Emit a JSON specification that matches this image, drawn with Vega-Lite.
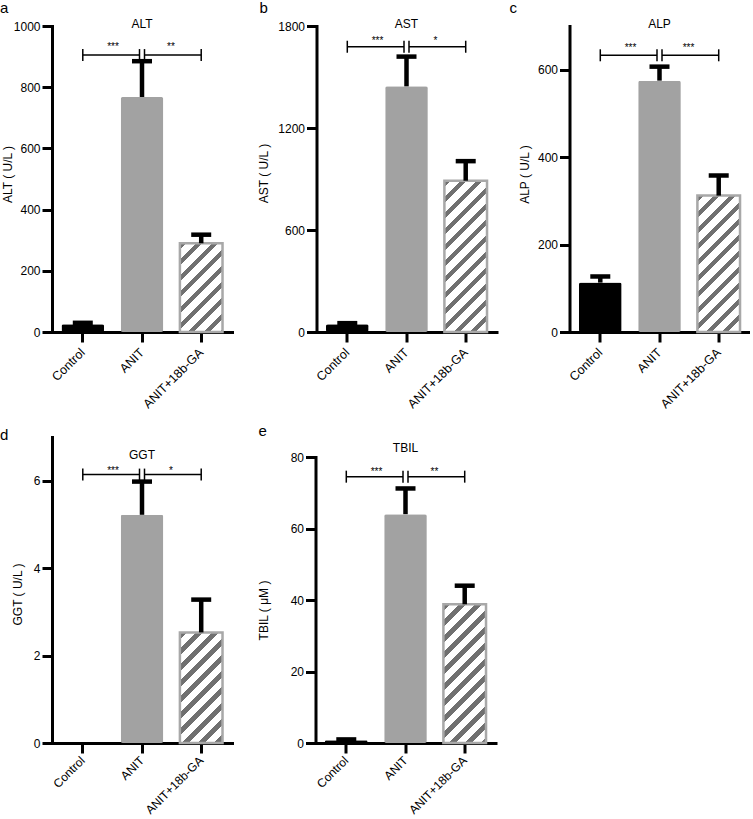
{
  "$schema": "https://vega.github.io/schema/vega-lite/v6.json",
  "padding": {"left": 0, "top": 0, "right": 0, "bottom": 0},
  "background": "white",
  "config": {
    "view": {"stroke": null},
    "font": "Liberation Sans",
    "axis": {"domainColor": "black", "domainWidth": 3, "domainCap": "square", "tickColor": "black", "tickWidth": 3, "tickSize": 10, "labelFont": "Liberation Sans", "labelFontSize": 12, "labelColor": "black", "titleFont": "Liberation Sans", "titleFontSize": 12, "titleFontWeight": "normal", "titleColor": "black", "grid": false, "labelOverlap": false},
    "axisX": {"labelAngle": -45, "labelAlign": "right", "labelBaseline": "middle", "labelPadding": 8, "labelFontSize": 12.5},
    "axisY": {"labelPadding": 2, "titleAngle": -90, "titleBaseline": "middle", "titleAlign": "center"},
    "title": {"font": "Liberation Sans", "fontSize": 15, "fontWeight": "normal", "color": "black", "anchor": "start", "frame": "group", "baseline": "alphabetic"}
  },
  "datasets": {
    "a_bars": [{"group": "Control", "mean": 25, "upper": 30}, {"group": "ANIT", "mean": 768, "upper": 885}, {"group": "ANIT+18b-GA", "mean": 290, "upper": 318}],
    "a_sig": [{"side": "L", "x1": "Control", "x2": "ANIT", "y": 905, "stars": "***"}, {"side": "R", "x1": "ANIT", "x2": "ANIT+18b-GA", "y": 905, "stars": "**"}],
    "b_bars": [{"group": "Control", "mean": 45, "upper": 52}, {"group": "ANIT", "mean": 1445, "upper": 1620}, {"group": "ANIT+18b-GA", "mean": 890, "upper": 1005}],
    "b_sig": [{"side": "L", "x1": "Control", "x2": "ANIT", "y": 1678, "stars": "***"}, {"side": "R", "x1": "ANIT", "x2": "ANIT+18b-GA", "y": 1678, "stars": "*"}],
    "c_bars": [{"group": "Control", "mean": 113, "upper": 127}, {"group": "ANIT", "mean": 575, "upper": 607}, {"group": "ANIT+18b-GA", "mean": 312, "upper": 358}],
    "c_sig": [{"side": "L", "x1": "Control", "x2": "ANIT", "y": 633, "stars": "***"}, {"side": "R", "x1": "ANIT", "x2": "ANIT+18b-GA", "y": 633, "stars": "***"}],
    "d_bars": [{"group": "Control", "mean": 0, "upper": null}, {"group": "ANIT", "mean": 5.22, "upper": 5.98}, {"group": "ANIT+18b-GA", "mean": 2.53, "upper": 3.28}],
    "d_sig": [{"side": "L", "x1": "Control", "x2": "ANIT", "y": 6.14, "stars": "***"}, {"side": "R", "x1": "ANIT", "x2": "ANIT+18b-GA", "y": 6.14, "stars": "*"}],
    "e_bars": [{"group": "Control", "mean": 0.8, "upper": 1.0}, {"group": "ANIT", "mean": 64.0, "upper": 71.2}, {"group": "ANIT+18b-GA", "mean": 38.8, "upper": 44.0}],
    "e_sig": [{"side": "L", "x1": "Control", "x2": "ANIT", "y": 74.5, "stars": "***"}, {"side": "R", "x1": "ANIT", "x2": "ANIT+18b-GA", "y": 74.5, "stars": "**"}]
  },
  "spacing": 13,
  "vconcat": [
    {
      "spacing": 12.5,
      "hconcat": [
        {
          "spacing": 25.5,
          "hconcat": [
            {
              "width": 180, "height": 306,
              "title": {"text": "a", "dx": -52, "offset": 2},
              "layer": [
                {"data": {"name": "a_bars"}, "transform": [{"filter": "datum.group != 'ANIT+18b-GA'"}], "mark": {"type": "bar", "cornerRadius": 2},
                 "encoding": {"x": {"field": "group", "type": "nominal", "scale": {"domain": ["Control", "ANIT", "ANIT+18b-GA"], "paddingInner": 0.28, "paddingOuter": 0.16}, "axis": {"title": null}},
                              "y": {"field": "mean", "type": "quantitative", "scale": {"domain": [0, 1000], "nice": false}, "axis": {"values": [0, 200, 400, 600, 800, 1000], "format": "d", "title": "ALT ( U/L )", "titleX": -45, "titleY": 148}},
                              "color": {"field": "group", "type": "nominal", "scale": {"domain": ["Control", "ANIT"], "range": ["#000000", "#a2a2a2"]}, "legend": null}}},
                {"data": {"name": "a_bars"}, "transform": [{"filter": "datum.group == 'ANIT+18b-GA'"}],
                 "mark": {"type": "bar", "stroke": "#a8a8a8", "strokeWidth": 2.5, "fill": {"gradient": "linear", "x1": 0, "y1": 0, "x2": 1, "y2": 2.0807, "stops": [
                   {"offset": 0, "color": "#707070"}, {"offset": 0.02958, "color": "#707070"}, {"offset": 0.02958, "color": "#ffffff"}, {"offset": 0.07043, "color": "#ffffff"},
                   {"offset": 0.07043, "color": "#707070"}, {"offset": 0.10001, "color": "#707070"}, {"offset": 0.10001, "color": "#ffffff"}, {"offset": 0.14085, "color": "#ffffff"},
                   {"offset": 0.14085, "color": "#707070"}, {"offset": 0.17043, "color": "#707070"}, {"offset": 0.17043, "color": "#ffffff"}, {"offset": 0.21128, "color": "#ffffff"},
                   {"offset": 0.21128, "color": "#707070"}, {"offset": 0.24086, "color": "#707070"}, {"offset": 0.24086, "color": "#ffffff"}, {"offset": 0.2817, "color": "#ffffff"},
                   {"offset": 0.2817, "color": "#707070"}, {"offset": 0.31128, "color": "#707070"}, {"offset": 0.31128, "color": "#ffffff"}, {"offset": 0.35213, "color": "#ffffff"},
                   {"offset": 0.35213, "color": "#707070"}, {"offset": 0.38171, "color": "#707070"}, {"offset": 0.38171, "color": "#ffffff"}, {"offset": 0.42256, "color": "#ffffff"},
                   {"offset": 0.42256, "color": "#707070"}, {"offset": 0.45214, "color": "#707070"}, {"offset": 0.45214, "color": "#ffffff"}, {"offset": 0.49298, "color": "#ffffff"},
                   {"offset": 0.49298, "color": "#707070"}, {"offset": 0.52256, "color": "#707070"}, {"offset": 0.52256, "color": "#ffffff"}, {"offset": 0.56341, "color": "#ffffff"},
                   {"offset": 0.56341, "color": "#707070"}, {"offset": 0.59299, "color": "#707070"}, {"offset": 0.59299, "color": "#ffffff"}, {"offset": 1, "color": "#ffffff"}]}},
                 "encoding": {"x": {"field": "group", "type": "nominal"}, "y": {"field": "mean", "type": "quantitative"}}},
                {"data": {"name": "a_bars"}, "transform": [{"filter": "isValid(datum.upper)"}], "mark": {"type": "rule", "strokeWidth": 4.5, "color": "black"},
                 "encoding": {"x": {"field": "group", "type": "nominal"}, "y": {"field": "mean", "type": "quantitative"}, "y2": {"field": "upper"}}},
                {"data": {"name": "a_bars"}, "transform": [{"filter": "isValid(datum.upper)"}], "mark": {"type": "tick", "size": 20, "thickness": 4.5, "color": "black", "opacity": 1},
                 "encoding": {"x": {"field": "group", "type": "nominal"}, "y": {"field": "upper", "type": "quantitative"}}},
                {"data": {"name": "a_sig"}, "transform": [{"filter": "datum.side == 'L'"}], "mark": {"type": "rule", "strokeWidth": 1.5, "color": "black", "x2Offset": -2.5},
                 "encoding": {"x": {"field": "x1", "type": "nominal"}, "x2": {"field": "x2"}, "y": {"field": "y", "type": "quantitative"}}},
                {"data": {"name": "a_sig"}, "transform": [{"filter": "datum.side == 'R'"}], "mark": {"type": "rule", "strokeWidth": 1.5, "color": "black", "xOffset": 2.5},
                 "encoding": {"x": {"field": "x1", "type": "nominal"}, "x2": {"field": "x2"}, "y": {"field": "y", "type": "quantitative"}}},
                {"data": {"name": "a_sig"}, "transform": [{"filter": "datum.side == 'L'"}], "mark": {"type": "rule", "strokeWidth": 1.5, "color": "black", "yOffset": -6, "y2Offset": 6},
                 "encoding": {"x": {"field": "x1", "type": "nominal"}, "y": {"field": "y", "type": "quantitative"}, "y2": {"field": "y"}}},
                {"data": {"name": "a_sig"}, "transform": [{"filter": "datum.side == 'L'"}], "mark": {"type": "rule", "strokeWidth": 1.5, "color": "black", "yOffset": -6, "y2Offset": 6, "xOffset": -2.5},
                 "encoding": {"x": {"field": "x2", "type": "nominal"}, "y": {"field": "y", "type": "quantitative"}, "y2": {"field": "y"}}},
                {"data": {"name": "a_sig"}, "transform": [{"filter": "datum.side == 'R'"}], "mark": {"type": "rule", "strokeWidth": 1.5, "color": "black", "yOffset": -6, "y2Offset": 6, "xOffset": 2.5},
                 "encoding": {"x": {"field": "x1", "type": "nominal"}, "y": {"field": "y", "type": "quantitative"}, "y2": {"field": "y"}}},
                {"data": {"name": "a_sig"}, "transform": [{"filter": "datum.side == 'R'"}], "mark": {"type": "rule", "strokeWidth": 1.5, "color": "black", "yOffset": -6, "y2Offset": 6},
                 "encoding": {"x": {"field": "x2", "type": "nominal"}, "y": {"field": "y", "type": "quantitative"}, "y2": {"field": "y"}}},
                {"data": {"name": "a_sig"}, "transform": [{"filter": "datum.side == 'L'"}], "mark": {"type": "text", "fontSize": 10, "dx": -29, "dy": -5, "baseline": "alphabetic", "color": "black"},
                 "encoding": {"x": {"field": "x2", "type": "nominal"}, "y": {"field": "y", "type": "quantitative"}, "text": {"field": "stars"}}},
                {"data": {"name": "a_sig"}, "transform": [{"filter": "datum.side == 'R'"}], "mark": {"type": "text", "fontSize": 10, "dx": 29, "dy": -5, "baseline": "alphabetic", "color": "black"},
                 "encoding": {"x": {"field": "x1", "type": "nominal"}, "y": {"field": "y", "type": "quantitative"}, "text": {"field": "stars"}}},
                {"data": {"name": "a_bars"}, "transform": [{"filter": "datum.group == 'ANIT'"}], "mark": {"type": "text", "fontSize": 12, "baseline": "middle", "color": "black"},
                 "encoding": {"x": {"field": "group", "type": "nominal"}, "y": {"datum": 1006.5}, "text": {"value": "ALT"}}}
              ]
            },
            {
              "width": 180, "height": 306,
              "title": {"text": "b", "dx": -57, "offset": 2},
              "layer": [
                {"data": {"name": "b_bars"}, "transform": [{"filter": "datum.group != 'ANIT+18b-GA'"}], "mark": {"type": "bar", "cornerRadius": 2},
                 "encoding": {"x": {"field": "group", "type": "nominal", "scale": {"domain": ["Control", "ANIT", "ANIT+18b-GA"], "paddingInner": 0.28, "paddingOuter": 0.16}, "axis": {"title": null}},
                              "y": {"field": "mean", "type": "quantitative", "scale": {"domain": [0, 1800], "nice": false}, "axis": {"values": [0, 600, 1200, 1800], "format": "d", "title": "AST ( U/L )", "titleX": -53, "titleY": 147}},
                              "color": {"field": "group", "type": "nominal", "scale": {"domain": ["Control", "ANIT"], "range": ["#000000", "#a2a2a2"]}, "legend": null}}},
                {"data": {"name": "b_bars"}, "transform": [{"filter": "datum.group == 'ANIT+18b-GA'"}],
                 "mark": {"type": "bar", "stroke": "#a8a8a8", "strokeWidth": 2.5, "fill": {"gradient": "linear", "x1": 0, "y1": 0, "x2": 1, "y2": 3.5491, "stops": [
                   {"offset": 0, "color": "#707070"}, {"offset": 0.01159, "color": "#707070"}, {"offset": 0.01159, "color": "#ffffff"}, {"offset": 0.02761, "color": "#ffffff"},
                   {"offset": 0.02761, "color": "#707070"}, {"offset": 0.0392, "color": "#707070"}, {"offset": 0.0392, "color": "#ffffff"}, {"offset": 0.05521, "color": "#ffffff"},
                   {"offset": 0.05521, "color": "#707070"}, {"offset": 0.0668, "color": "#707070"}, {"offset": 0.0668, "color": "#ffffff"}, {"offset": 0.08282, "color": "#ffffff"},
                   {"offset": 0.08282, "color": "#707070"}, {"offset": 0.09441, "color": "#707070"}, {"offset": 0.09441, "color": "#ffffff"}, {"offset": 0.11042, "color": "#ffffff"},
                   {"offset": 0.11042, "color": "#707070"}, {"offset": 0.12201, "color": "#707070"}, {"offset": 0.12201, "color": "#ffffff"}, {"offset": 0.13803, "color": "#ffffff"},
                   {"offset": 0.13803, "color": "#707070"}, {"offset": 0.14962, "color": "#707070"}, {"offset": 0.14962, "color": "#ffffff"}, {"offset": 0.16563, "color": "#ffffff"},
                   {"offset": 0.16563, "color": "#707070"}, {"offset": 0.17722, "color": "#707070"}, {"offset": 0.17722, "color": "#ffffff"}, {"offset": 0.19324, "color": "#ffffff"},
                   {"offset": 0.19324, "color": "#707070"}, {"offset": 0.20483, "color": "#707070"}, {"offset": 0.20483, "color": "#ffffff"}, {"offset": 0.22084, "color": "#ffffff"},
                   {"offset": 0.22084, "color": "#707070"}, {"offset": 0.23243, "color": "#707070"}, {"offset": 0.23243, "color": "#ffffff"}, {"offset": 0.24845, "color": "#ffffff"},
                   {"offset": 0.24845, "color": "#707070"}, {"offset": 0.26004, "color": "#707070"}, {"offset": 0.26004, "color": "#ffffff"}, {"offset": 0.27605, "color": "#ffffff"},
                   {"offset": 0.27605, "color": "#707070"}, {"offset": 0.28764, "color": "#707070"}, {"offset": 0.28764, "color": "#ffffff"}, {"offset": 0.30366, "color": "#ffffff"},
                   {"offset": 0.30366, "color": "#707070"}, {"offset": 0.31525, "color": "#707070"}, {"offset": 0.31525, "color": "#ffffff"}, {"offset": 0.33126, "color": "#ffffff"},
                   {"offset": 0.33126, "color": "#707070"}, {"offset": 0.34285, "color": "#707070"}, {"offset": 0.34285, "color": "#ffffff"}, {"offset": 1, "color": "#ffffff"}]}},
                 "encoding": {"x": {"field": "group", "type": "nominal"}, "y": {"field": "mean", "type": "quantitative"}}},
                {"data": {"name": "b_bars"}, "transform": [{"filter": "isValid(datum.upper)"}], "mark": {"type": "rule", "strokeWidth": 4.5, "color": "black"},
                 "encoding": {"x": {"field": "group", "type": "nominal"}, "y": {"field": "mean", "type": "quantitative"}, "y2": {"field": "upper"}}},
                {"data": {"name": "b_bars"}, "transform": [{"filter": "isValid(datum.upper)"}], "mark": {"type": "tick", "size": 20, "thickness": 4.5, "color": "black", "opacity": 1},
                 "encoding": {"x": {"field": "group", "type": "nominal"}, "y": {"field": "upper", "type": "quantitative"}}},
                {"data": {"name": "b_sig"}, "transform": [{"filter": "datum.side == 'L'"}], "mark": {"type": "rule", "strokeWidth": 1.5, "color": "black", "x2Offset": -2.5},
                 "encoding": {"x": {"field": "x1", "type": "nominal"}, "x2": {"field": "x2"}, "y": {"field": "y", "type": "quantitative"}}},
                {"data": {"name": "b_sig"}, "transform": [{"filter": "datum.side == 'R'"}], "mark": {"type": "rule", "strokeWidth": 1.5, "color": "black", "xOffset": 2.5},
                 "encoding": {"x": {"field": "x1", "type": "nominal"}, "x2": {"field": "x2"}, "y": {"field": "y", "type": "quantitative"}}},
                {"data": {"name": "b_sig"}, "transform": [{"filter": "datum.side == 'L'"}], "mark": {"type": "rule", "strokeWidth": 1.5, "color": "black", "yOffset": -6, "y2Offset": 6},
                 "encoding": {"x": {"field": "x1", "type": "nominal"}, "y": {"field": "y", "type": "quantitative"}, "y2": {"field": "y"}}},
                {"data": {"name": "b_sig"}, "transform": [{"filter": "datum.side == 'L'"}], "mark": {"type": "rule", "strokeWidth": 1.5, "color": "black", "yOffset": -6, "y2Offset": 6, "xOffset": -2.5},
                 "encoding": {"x": {"field": "x2", "type": "nominal"}, "y": {"field": "y", "type": "quantitative"}, "y2": {"field": "y"}}},
                {"data": {"name": "b_sig"}, "transform": [{"filter": "datum.side == 'R'"}], "mark": {"type": "rule", "strokeWidth": 1.5, "color": "black", "yOffset": -6, "y2Offset": 6, "xOffset": 2.5},
                 "encoding": {"x": {"field": "x1", "type": "nominal"}, "y": {"field": "y", "type": "quantitative"}, "y2": {"field": "y"}}},
                {"data": {"name": "b_sig"}, "transform": [{"filter": "datum.side == 'R'"}], "mark": {"type": "rule", "strokeWidth": 1.5, "color": "black", "yOffset": -6, "y2Offset": 6},
                 "encoding": {"x": {"field": "x2", "type": "nominal"}, "y": {"field": "y", "type": "quantitative"}, "y2": {"field": "y"}}},
                {"data": {"name": "b_sig"}, "transform": [{"filter": "datum.side == 'L'"}], "mark": {"type": "text", "fontSize": 10, "dx": -29, "dy": -2.5, "baseline": "alphabetic", "color": "black"},
                 "encoding": {"x": {"field": "x2", "type": "nominal"}, "y": {"field": "y", "type": "quantitative"}, "text": {"field": "stars"}}},
                {"data": {"name": "b_sig"}, "transform": [{"filter": "datum.side == 'R'"}], "mark": {"type": "text", "fontSize": 10, "dx": 29, "dy": -2.5, "baseline": "alphabetic", "color": "black"},
                 "encoding": {"x": {"field": "x1", "type": "nominal"}, "y": {"field": "y", "type": "quantitative"}, "text": {"field": "stars"}}},
                {"data": {"name": "b_bars"}, "transform": [{"filter": "datum.group == 'ANIT'"}], "mark": {"type": "text", "fontSize": 12, "baseline": "middle", "color": "black"},
                 "encoding": {"x": {"field": "group", "type": "nominal"}, "y": {"datum": 1811.8}, "text": {"value": "AST"}}}
              ]
            }
          ]
        },
        {
          "width": 180, "height": 306,
          "title": {"text": "c", "dx": -60, "offset": 2},
          "layer": [
            {"data": {"name": "c_bars"}, "transform": [{"filter": "datum.group != 'ANIT+18b-GA'"}], "mark": {"type": "bar", "cornerRadius": 2},
             "encoding": {"x": {"field": "group", "type": "nominal", "scale": {"domain": ["Control", "ANIT", "ANIT+18b-GA"], "paddingInner": 0.28, "paddingOuter": 0.16}, "axis": {"title": null}},
                          "y": {"field": "mean", "type": "quantitative", "scale": {"domain": [0, 700], "nice": false}, "axis": {"values": [0, 200, 400, 600], "format": "d", "title": "ALP ( U/L )", "titleX": -45, "titleY": 148}},
                          "color": {"field": "group", "type": "nominal", "scale": {"domain": ["Control", "ANIT"], "range": ["#000000", "#a2a2a2"]}, "legend": null}}},
            {"data": {"name": "c_bars"}, "transform": [{"filter": "datum.group == 'ANIT+18b-GA'"}],
             "mark": {"type": "bar", "stroke": "#a8a8a8", "strokeWidth": 2.5, "fill": {"gradient": "linear", "x1": 0, "y1": 0, "x2": 1, "y2": 3.1997, "stops": [
               {"offset": 0, "color": "#707070"}, {"offset": 0.01403, "color": "#707070"}, {"offset": 0.01403, "color": "#ffffff"}, {"offset": 0.0334, "color": "#ffffff"},
               {"offset": 0.0334, "color": "#707070"}, {"offset": 0.04743, "color": "#707070"}, {"offset": 0.04743, "color": "#ffffff"}, {"offset": 0.0668, "color": "#ffffff"},
               {"offset": 0.0668, "color": "#707070"}, {"offset": 0.08083, "color": "#707070"}, {"offset": 0.08083, "color": "#ffffff"}, {"offset": 0.1002, "color": "#ffffff"},
               {"offset": 0.1002, "color": "#707070"}, {"offset": 0.11423, "color": "#707070"}, {"offset": 0.11423, "color": "#ffffff"}, {"offset": 0.1336, "color": "#ffffff"},
               {"offset": 0.1336, "color": "#707070"}, {"offset": 0.14763, "color": "#707070"}, {"offset": 0.14763, "color": "#ffffff"}, {"offset": 0.167, "color": "#ffffff"},
               {"offset": 0.167, "color": "#707070"}, {"offset": 0.18103, "color": "#707070"}, {"offset": 0.18103, "color": "#ffffff"}, {"offset": 0.2004, "color": "#ffffff"},
               {"offset": 0.2004, "color": "#707070"}, {"offset": 0.21443, "color": "#707070"}, {"offset": 0.21443, "color": "#ffffff"}, {"offset": 0.2338, "color": "#ffffff"},
               {"offset": 0.2338, "color": "#707070"}, {"offset": 0.24783, "color": "#707070"}, {"offset": 0.24783, "color": "#ffffff"}, {"offset": 0.2672, "color": "#ffffff"},
               {"offset": 0.2672, "color": "#707070"}, {"offset": 0.28123, "color": "#707070"}, {"offset": 0.28123, "color": "#ffffff"}, {"offset": 0.3006, "color": "#ffffff"},
               {"offset": 0.3006, "color": "#707070"}, {"offset": 0.31463, "color": "#707070"}, {"offset": 0.31463, "color": "#ffffff"}, {"offset": 0.334, "color": "#ffffff"},
               {"offset": 0.334, "color": "#707070"}, {"offset": 0.34803, "color": "#707070"}, {"offset": 0.34803, "color": "#ffffff"}, {"offset": 0.3674, "color": "#ffffff"},
               {"offset": 0.3674, "color": "#707070"}, {"offset": 0.38143, "color": "#707070"}, {"offset": 0.38143, "color": "#ffffff"}, {"offset": 1, "color": "#ffffff"}]}},
             "encoding": {"x": {"field": "group", "type": "nominal"}, "y": {"field": "mean", "type": "quantitative"}}},
            {"data": {"name": "c_bars"}, "transform": [{"filter": "isValid(datum.upper)"}], "mark": {"type": "rule", "strokeWidth": 4.5, "color": "black"},
             "encoding": {"x": {"field": "group", "type": "nominal"}, "y": {"field": "mean", "type": "quantitative"}, "y2": {"field": "upper"}}},
            {"data": {"name": "c_bars"}, "transform": [{"filter": "isValid(datum.upper)"}], "mark": {"type": "tick", "size": 20, "thickness": 4.5, "color": "black", "opacity": 1},
             "encoding": {"x": {"field": "group", "type": "nominal"}, "y": {"field": "upper", "type": "quantitative"}}},
            {"data": {"name": "c_sig"}, "transform": [{"filter": "datum.side == 'L'"}], "mark": {"type": "rule", "strokeWidth": 1.5, "color": "black", "x2Offset": -2.5},
             "encoding": {"x": {"field": "x1", "type": "nominal"}, "x2": {"field": "x2"}, "y": {"field": "y", "type": "quantitative"}}},
            {"data": {"name": "c_sig"}, "transform": [{"filter": "datum.side == 'R'"}], "mark": {"type": "rule", "strokeWidth": 1.5, "color": "black", "xOffset": 2.5},
             "encoding": {"x": {"field": "x1", "type": "nominal"}, "x2": {"field": "x2"}, "y": {"field": "y", "type": "quantitative"}}},
            {"data": {"name": "c_sig"}, "transform": [{"filter": "datum.side == 'L'"}], "mark": {"type": "rule", "strokeWidth": 1.5, "color": "black", "yOffset": -6, "y2Offset": 6},
             "encoding": {"x": {"field": "x1", "type": "nominal"}, "y": {"field": "y", "type": "quantitative"}, "y2": {"field": "y"}}},
            {"data": {"name": "c_sig"}, "transform": [{"filter": "datum.side == 'L'"}], "mark": {"type": "rule", "strokeWidth": 1.5, "color": "black", "yOffset": -6, "y2Offset": 6, "xOffset": -2.5},
             "encoding": {"x": {"field": "x2", "type": "nominal"}, "y": {"field": "y", "type": "quantitative"}, "y2": {"field": "y"}}},
            {"data": {"name": "c_sig"}, "transform": [{"filter": "datum.side == 'R'"}], "mark": {"type": "rule", "strokeWidth": 1.5, "color": "black", "yOffset": -6, "y2Offset": 6, "xOffset": 2.5},
             "encoding": {"x": {"field": "x1", "type": "nominal"}, "y": {"field": "y", "type": "quantitative"}, "y2": {"field": "y"}}},
            {"data": {"name": "c_sig"}, "transform": [{"filter": "datum.side == 'R'"}], "mark": {"type": "rule", "strokeWidth": 1.5, "color": "black", "yOffset": -6, "y2Offset": 6},
             "encoding": {"x": {"field": "x2", "type": "nominal"}, "y": {"field": "y", "type": "quantitative"}, "y2": {"field": "y"}}},
            {"data": {"name": "c_sig"}, "transform": [{"filter": "datum.side == 'L'"}], "mark": {"type": "text", "fontSize": 10, "dx": -29, "dy": -4, "baseline": "alphabetic", "color": "black"},
             "encoding": {"x": {"field": "x2", "type": "nominal"}, "y": {"field": "y", "type": "quantitative"}, "text": {"field": "stars"}}},
            {"data": {"name": "c_sig"}, "transform": [{"filter": "datum.side == 'R'"}], "mark": {"type": "text", "fontSize": 10, "dx": 29, "dy": -4, "baseline": "alphabetic", "color": "black"},
             "encoding": {"x": {"field": "x1", "type": "nominal"}, "y": {"field": "y", "type": "quantitative"}, "text": {"field": "stars"}}},
            {"data": {"name": "c_bars"}, "transform": [{"filter": "datum.group == 'ANIT'"}], "mark": {"type": "text", "fontSize": 12, "baseline": "middle", "color": "black"},
             "encoding": {"x": {"field": "group", "type": "nominal"}, "y": {"datum": 704.6}, "text": {"value": "ALP"}}}
          ]
        }
      ]
    },
    {
      "spacing": 25.5,
      "hconcat": [
        {
          "width": 180, "height": 306,
          "title": {"text": "d", "dx": -52, "offset": -5.5},
          "layer": [
            {"data": {"name": "d_bars"}, "transform": [{"filter": "datum.group != 'ANIT+18b-GA'"}], "mark": {"type": "bar", "cornerRadius": 2},
             "encoding": {"x": {"field": "group", "type": "nominal", "scale": {"domain": ["Control", "ANIT", "ANIT+18b-GA"], "paddingInner": 0.28, "paddingOuter": 0.16}, "axis": {"title": null, "labelPadding": 5, "labelFontSize": 12}},
                          "y": {"field": "mean", "type": "quantitative", "scale": {"domain": [0, 7], "nice": false}, "axis": {"values": [0, 2, 4, 6], "format": "d", "title": "GGT ( U/L )", "titleX": -35, "titleY": 157}},
                          "color": {"field": "group", "type": "nominal", "scale": {"domain": ["Control", "ANIT"], "range": ["#000000", "#a2a2a2"]}, "legend": null}}},
            {"data": {"name": "d_bars"}, "transform": [{"filter": "datum.group == 'ANIT+18b-GA'"}],
             "mark": {"type": "bar", "stroke": "#a8a8a8", "strokeWidth": 2.5, "fill": {"gradient": "linear", "x1": 0, "y1": 0, "x2": 1, "y2": 2.5944, "stops": [
               {"offset": 0, "color": "#707070"}, {"offset": 0.02039, "color": "#707070"}, {"offset": 0.02039, "color": "#ffffff"}, {"offset": 0.04855, "color": "#ffffff"},
               {"offset": 0.04855, "color": "#707070"}, {"offset": 0.06894, "color": "#707070"}, {"offset": 0.06894, "color": "#ffffff"}, {"offset": 0.0971, "color": "#ffffff"},
               {"offset": 0.0971, "color": "#707070"}, {"offset": 0.11749, "color": "#707070"}, {"offset": 0.11749, "color": "#ffffff"}, {"offset": 0.14564, "color": "#ffffff"},
               {"offset": 0.14564, "color": "#707070"}, {"offset": 0.16604, "color": "#707070"}, {"offset": 0.16604, "color": "#ffffff"}, {"offset": 0.19419, "color": "#ffffff"},
               {"offset": 0.19419, "color": "#707070"}, {"offset": 0.21458, "color": "#707070"}, {"offset": 0.21458, "color": "#ffffff"}, {"offset": 0.24274, "color": "#ffffff"},
               {"offset": 0.24274, "color": "#707070"}, {"offset": 0.26313, "color": "#707070"}, {"offset": 0.26313, "color": "#ffffff"}, {"offset": 0.29129, "color": "#ffffff"},
               {"offset": 0.29129, "color": "#707070"}, {"offset": 0.31168, "color": "#707070"}, {"offset": 0.31168, "color": "#ffffff"}, {"offset": 0.33984, "color": "#ffffff"},
               {"offset": 0.33984, "color": "#707070"}, {"offset": 0.36023, "color": "#707070"}, {"offset": 0.36023, "color": "#ffffff"}, {"offset": 0.38838, "color": "#ffffff"},
               {"offset": 0.38838, "color": "#707070"}, {"offset": 0.40877, "color": "#707070"}, {"offset": 0.40877, "color": "#ffffff"}, {"offset": 0.43693, "color": "#ffffff"},
               {"offset": 0.43693, "color": "#707070"}, {"offset": 0.45732, "color": "#707070"}, {"offset": 0.45732, "color": "#ffffff"}, {"offset": 1, "color": "#ffffff"}]}},
             "encoding": {"x": {"field": "group", "type": "nominal"}, "y": {"field": "mean", "type": "quantitative"}}},
            {"data": {"name": "d_bars"}, "transform": [{"filter": "isValid(datum.upper)"}], "mark": {"type": "rule", "strokeWidth": 4.5, "color": "black"},
             "encoding": {"x": {"field": "group", "type": "nominal"}, "y": {"field": "mean", "type": "quantitative"}, "y2": {"field": "upper"}}},
            {"data": {"name": "d_bars"}, "transform": [{"filter": "isValid(datum.upper)"}], "mark": {"type": "tick", "size": 20, "thickness": 4.5, "color": "black", "opacity": 1},
             "encoding": {"x": {"field": "group", "type": "nominal"}, "y": {"field": "upper", "type": "quantitative"}}},
            {"data": {"name": "d_sig"}, "transform": [{"filter": "datum.side == 'L'"}], "mark": {"type": "rule", "strokeWidth": 1.5, "color": "black", "x2Offset": -2.5},
             "encoding": {"x": {"field": "x1", "type": "nominal"}, "x2": {"field": "x2"}, "y": {"field": "y", "type": "quantitative"}}},
            {"data": {"name": "d_sig"}, "transform": [{"filter": "datum.side == 'R'"}], "mark": {"type": "rule", "strokeWidth": 1.5, "color": "black", "xOffset": 2.5},
             "encoding": {"x": {"field": "x1", "type": "nominal"}, "x2": {"field": "x2"}, "y": {"field": "y", "type": "quantitative"}}},
            {"data": {"name": "d_sig"}, "transform": [{"filter": "datum.side == 'L'"}], "mark": {"type": "rule", "strokeWidth": 1.5, "color": "black", "yOffset": -6, "y2Offset": 6},
             "encoding": {"x": {"field": "x1", "type": "nominal"}, "y": {"field": "y", "type": "quantitative"}, "y2": {"field": "y"}}},
            {"data": {"name": "d_sig"}, "transform": [{"filter": "datum.side == 'L'"}], "mark": {"type": "rule", "strokeWidth": 1.5, "color": "black", "yOffset": -6, "y2Offset": 6, "xOffset": -2.5},
             "encoding": {"x": {"field": "x2", "type": "nominal"}, "y": {"field": "y", "type": "quantitative"}, "y2": {"field": "y"}}},
            {"data": {"name": "d_sig"}, "transform": [{"filter": "datum.side == 'R'"}], "mark": {"type": "rule", "strokeWidth": 1.5, "color": "black", "yOffset": -6, "y2Offset": 6, "xOffset": 2.5},
             "encoding": {"x": {"field": "x1", "type": "nominal"}, "y": {"field": "y", "type": "quantitative"}, "y2": {"field": "y"}}},
            {"data": {"name": "d_sig"}, "transform": [{"filter": "datum.side == 'R'"}], "mark": {"type": "rule", "strokeWidth": 1.5, "color": "black", "yOffset": -6, "y2Offset": 6},
             "encoding": {"x": {"field": "x2", "type": "nominal"}, "y": {"field": "y", "type": "quantitative"}, "y2": {"field": "y"}}},
            {"data": {"name": "d_sig"}, "transform": [{"filter": "datum.side == 'L'"}], "mark": {"type": "text", "fontSize": 10, "dx": -29, "dy": -1, "baseline": "alphabetic", "color": "black"},
             "encoding": {"x": {"field": "x2", "type": "nominal"}, "y": {"field": "y", "type": "quantitative"}, "text": {"field": "stars"}}},
            {"data": {"name": "d_sig"}, "transform": [{"filter": "datum.side == 'R'"}], "mark": {"type": "text", "fontSize": 10, "dx": 29, "dy": -1, "baseline": "alphabetic", "color": "black"},
             "encoding": {"x": {"field": "x1", "type": "nominal"}, "y": {"field": "y", "type": "quantitative"}, "text": {"field": "stars"}}},
            {"data": {"name": "d_bars"}, "transform": [{"filter": "datum.group == 'ANIT'"}], "mark": {"type": "text", "fontSize": 12, "baseline": "middle", "color": "black"},
             "encoding": {"x": {"field": "group", "type": "nominal"}, "y": {"datum": 6.59}, "text": {"value": "GGT"}}}
          ]
        },
        {
          "width": 180, "height": 306,
          "title": {"text": "e", "dx": -57, "offset": -2},
          "layer": [
            {"data": {"name": "e_bars"}, "transform": [{"filter": "datum.group != 'ANIT+18b-GA'"}], "mark": {"type": "bar", "cornerRadius": 2},
             "encoding": {"x": {"field": "group", "type": "nominal", "scale": {"domain": ["Control", "ANIT", "ANIT+18b-GA"], "paddingInner": 0.28, "paddingOuter": 0.16}, "axis": {"title": null, "labelPadding": 5, "labelFontSize": 12}},
                          "y": {"field": "mean", "type": "quantitative", "scale": {"domain": [0, 80], "nice": false, "range": [306, 20]}, "axis": {"values": [0, 20, 40, 60, 80], "format": "d", "title": "TBIL ( μM )", "titleX": -52, "titleY": 173}},
                          "color": {"field": "group", "type": "nominal", "scale": {"domain": ["Control", "ANIT"], "range": ["#000000", "#a2a2a2"]}, "legend": null}}},
            {"data": {"name": "e_bars"}, "transform": [{"filter": "datum.group == 'ANIT+18b-GA'"}],
             "mark": {"type": "bar", "stroke": "#a8a8a8", "strokeWidth": 2.5, "fill": {"gradient": "linear", "x1": 0, "y1": 0, "x2": 1, "y2": 3.2536, "stops": [
               {"offset": 0, "color": "#707070"}, {"offset": 0.01361, "color": "#707070"}, {"offset": 0.01361, "color": "#ffffff"}, {"offset": 0.0324, "color": "#ffffff"},
               {"offset": 0.0324, "color": "#707070"}, {"offset": 0.046, "color": "#707070"}, {"offset": 0.046, "color": "#ffffff"}, {"offset": 0.06479, "color": "#ffffff"},
               {"offset": 0.06479, "color": "#707070"}, {"offset": 0.0784, "color": "#707070"}, {"offset": 0.0784, "color": "#ffffff"}, {"offset": 0.09719, "color": "#ffffff"},
               {"offset": 0.09719, "color": "#707070"}, {"offset": 0.11079, "color": "#707070"}, {"offset": 0.11079, "color": "#ffffff"}, {"offset": 0.12958, "color": "#ffffff"},
               {"offset": 0.12958, "color": "#707070"}, {"offset": 0.14319, "color": "#707070"}, {"offset": 0.14319, "color": "#ffffff"}, {"offset": 0.16198, "color": "#ffffff"},
               {"offset": 0.16198, "color": "#707070"}, {"offset": 0.17558, "color": "#707070"}, {"offset": 0.17558, "color": "#ffffff"}, {"offset": 0.19437, "color": "#ffffff"},
               {"offset": 0.19437, "color": "#707070"}, {"offset": 0.20798, "color": "#707070"}, {"offset": 0.20798, "color": "#ffffff"}, {"offset": 0.22677, "color": "#ffffff"},
               {"offset": 0.22677, "color": "#707070"}, {"offset": 0.24037, "color": "#707070"}, {"offset": 0.24037, "color": "#ffffff"}, {"offset": 0.25916, "color": "#ffffff"},
               {"offset": 0.25916, "color": "#707070"}, {"offset": 0.27277, "color": "#707070"}, {"offset": 0.27277, "color": "#ffffff"}, {"offset": 0.29156, "color": "#ffffff"},
               {"offset": 0.29156, "color": "#707070"}, {"offset": 0.30516, "color": "#707070"}, {"offset": 0.30516, "color": "#ffffff"}, {"offset": 0.32395, "color": "#ffffff"},
               {"offset": 0.32395, "color": "#707070"}, {"offset": 0.33756, "color": "#707070"}, {"offset": 0.33756, "color": "#ffffff"}, {"offset": 0.35635, "color": "#ffffff"},
               {"offset": 0.35635, "color": "#707070"}, {"offset": 0.36995, "color": "#707070"}, {"offset": 0.36995, "color": "#ffffff"}, {"offset": 1, "color": "#ffffff"}]}},
             "encoding": {"x": {"field": "group", "type": "nominal"}, "y": {"field": "mean", "type": "quantitative"}}},
            {"data": {"name": "e_bars"}, "transform": [{"filter": "isValid(datum.upper)"}], "mark": {"type": "rule", "strokeWidth": 4.5, "color": "black"},
             "encoding": {"x": {"field": "group", "type": "nominal"}, "y": {"field": "mean", "type": "quantitative"}, "y2": {"field": "upper"}}},
            {"data": {"name": "e_bars"}, "transform": [{"filter": "isValid(datum.upper)"}], "mark": {"type": "tick", "size": 20, "thickness": 4.5, "color": "black", "opacity": 1},
             "encoding": {"x": {"field": "group", "type": "nominal"}, "y": {"field": "upper", "type": "quantitative"}}},
            {"data": {"name": "e_sig"}, "transform": [{"filter": "datum.side == 'L'"}], "mark": {"type": "rule", "strokeWidth": 1.5, "color": "black", "x2Offset": -2.5},
             "encoding": {"x": {"field": "x1", "type": "nominal"}, "x2": {"field": "x2"}, "y": {"field": "y", "type": "quantitative"}}},
            {"data": {"name": "e_sig"}, "transform": [{"filter": "datum.side == 'R'"}], "mark": {"type": "rule", "strokeWidth": 1.5, "color": "black", "xOffset": 2.5},
             "encoding": {"x": {"field": "x1", "type": "nominal"}, "x2": {"field": "x2"}, "y": {"field": "y", "type": "quantitative"}}},
            {"data": {"name": "e_sig"}, "transform": [{"filter": "datum.side == 'L'"}], "mark": {"type": "rule", "strokeWidth": 1.5, "color": "black", "yOffset": -6, "y2Offset": 6},
             "encoding": {"x": {"field": "x1", "type": "nominal"}, "y": {"field": "y", "type": "quantitative"}, "y2": {"field": "y"}}},
            {"data": {"name": "e_sig"}, "transform": [{"filter": "datum.side == 'L'"}], "mark": {"type": "rule", "strokeWidth": 1.5, "color": "black", "yOffset": -6, "y2Offset": 6, "xOffset": -2.5},
             "encoding": {"x": {"field": "x2", "type": "nominal"}, "y": {"field": "y", "type": "quantitative"}, "y2": {"field": "y"}}},
            {"data": {"name": "e_sig"}, "transform": [{"filter": "datum.side == 'R'"}], "mark": {"type": "rule", "strokeWidth": 1.5, "color": "black", "yOffset": -6, "y2Offset": 6, "xOffset": 2.5},
             "encoding": {"x": {"field": "x1", "type": "nominal"}, "y": {"field": "y", "type": "quantitative"}, "y2": {"field": "y"}}},
            {"data": {"name": "e_sig"}, "transform": [{"filter": "datum.side == 'R'"}], "mark": {"type": "rule", "strokeWidth": 1.5, "color": "black", "yOffset": -6, "y2Offset": 6},
             "encoding": {"x": {"field": "x2", "type": "nominal"}, "y": {"field": "y", "type": "quantitative"}, "y2": {"field": "y"}}},
            {"data": {"name": "e_sig"}, "transform": [{"filter": "datum.side == 'L'"}], "mark": {"type": "text", "fontSize": 10, "dx": -29, "dy": -1.5, "baseline": "alphabetic", "color": "black"},
             "encoding": {"x": {"field": "x2", "type": "nominal"}, "y": {"field": "y", "type": "quantitative"}, "text": {"field": "stars"}}},
            {"data": {"name": "e_sig"}, "transform": [{"filter": "datum.side == 'R'"}], "mark": {"type": "text", "fontSize": 10, "dx": 29, "dy": -1.5, "baseline": "alphabetic", "color": "black"},
             "encoding": {"x": {"field": "x1", "type": "nominal"}, "y": {"field": "y", "type": "quantitative"}, "text": {"field": "stars"}}},
            {"data": {"name": "e_bars"}, "transform": [{"filter": "datum.group == 'ANIT'"}], "mark": {"type": "text", "fontSize": 12, "baseline": "middle", "color": "black"},
             "encoding": {"x": {"field": "group", "type": "nominal"}, "y": {"datum": 82.5}, "text": {"value": "TBIL"}}}
          ]
        }
      ]
    }
  ]
}
